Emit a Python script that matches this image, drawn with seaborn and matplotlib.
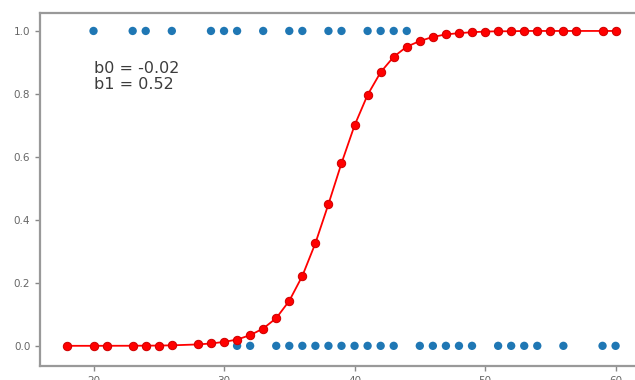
import matplotlib
matplotlib.use("Agg")
import matplotlib.pyplot as plt
import seaborn as sns
import pandas as pd

# observed points (class 1 on top, class 0 at the bottom)
top_x = [20, 23, 24, 26, 29, 30, 31, 33, 35, 36, 38, 39, 41, 42, 43, 44]
bottom_x = [31, 32, 34, 35, 36, 37, 38, 39, 40, 41, 42, 43, 45, 46, 47, 48,
            49, 51, 52, 53, 54, 56, 59, 60]

# fitted probabilities
fit_x = [18, 20, 21, 23, 24, 25, 26, 28, 29, 30, 31, 32, 33, 34, 35, 36, 37,
         38, 39, 40, 41, 42, 43, 44, 45, 46, 47, 48, 49, 50, 51, 52, 53, 54,
         55, 56, 57, 59, 60]
fit_p = [0.0001, 0.0001, 0.0002, 0.0003, 0.0006, 0.0009, 0.0016, 0.0045,
         0.0075, 0.0125, 0.020, 0.034, 0.055, 0.088, 0.143, 0.222, 0.326,
         0.45, 0.58, 0.70, 0.797, 0.869, 0.918, 0.950, 0.968, 0.981, 0.989,
         0.993, 0.996, 0.998, 0.999, 0.999, 1.0, 1.0, 1.0, 1.0, 1.0, 1.0, 1.0]

b0_text = "b0 = -0.02"
b1_text = "b1 = 0.52"

obs = pd.DataFrame({
    "x": top_x + bottom_x,
    "y": [1] * len(top_x) + [0] * len(bottom_x),
})
fit = pd.DataFrame({"x": fit_x, "p": fit_p})

sns.set_style("white")
fig = plt.figure(figsize=(6.35, 3.8), dpi=100)
ax = fig.add_axes([40 / 635, 1 - 366 / 380, 603 / 635, 353 / 380])

sns.scatterplot(data=obs, x="x", y="y", color="#1f77b4", s=36,
                edgecolor="none", ax=ax, zorder=2)
sns.lineplot(data=fit, x="x", y="p", color="red", marker="o",
             markersize=6, markeredgecolor="#d00000", linewidth=1.3,
             ax=ax, zorder=3)

ax.text(20, 0.905, b0_text + "\n" + b1_text, fontsize=11.5, color="#3c3c3c",
        va="top", ha="left", linespacing=1.1)

ax.set_xlim(15.9, 62.1)
ax.set_ylim(-0.064, 1.057)
ax.set_xticks([20, 30, 40, 50, 60])
ax.set_yticks([0.0, 0.2, 0.4, 0.6, 0.8, 1.0])
ax.set_xlabel("")
ax.set_ylabel("")
ax.tick_params(colors="#888888", labelcolor="#666666", labelsize=7.5,
               length=3.5, width=1, left=True, bottom=True)
for side in ax.spines.values():
    side.set_color("#999999")
    side.set_linewidth(1.6)

fig.savefig("out.png", dpi=100)
